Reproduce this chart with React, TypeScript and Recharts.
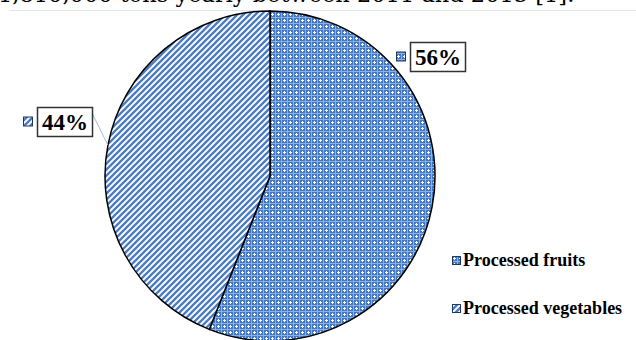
import { PieChart, Pie, Cell, Legend } from "recharts";

// categorias e fatias (%)
const categories = ["Processed fruits", "Processed vegetables"];
const shares = [56, 44];
const patternIds = ["pat-fruits", "pat-veg"];

// posição das caixas de rótulo em relação ao centro do gráfico (dx, dy do centro da caixa)
const LABEL_OFFSETS = [
  { dx: 168, dy: -119 },
  { dx: -205, dy: -54 },
];

const FONT = "'Liberation Serif', 'Times New Roman', serif";

function PatternDefs() {
  return (
    <defs>
      <pattern id="pat-fruits" width="6" height="6" patternUnits="userSpaceOnUse">
        <rect width="6" height="6" fill="#4178c6" />
        <rect x="2" y="1" width="1" height="3" fill="#ffffff" />
        <rect x="1" y="2" width="3" height="1" fill="#ffffff" />
        <rect x="5" y="5" width="1" height="1" fill="#ffffff" />
        <rect x="5" y="0" width="1" height="6" fill="#8fb0e2" />
        <rect x="0" y="5" width="6" height="1" fill="#8fb0e2" />
      </pattern>
      <pattern id="pat-veg" width="6" height="6" patternUnits="userSpaceOnUse">
        <rect width="6" height="6" fill="#ffffff" />
        <path d="M-1.5,1.5 L1.5,-1.5 M0,6 L6,0 M4.5,7.5 L7.5,4.5" stroke="#4a7cc4" strokeWidth="2.3" />
      </pattern>
    </defs>
  );
}

function Swatch({ id, size = 9 }: { id: string; size?: number }) {
  return (
    <svg width={size} height={size} style={{ display: "block" }}>
      <rect x={0.5} y={0.5} width={size - 1} height={size - 1} fill={`url(#${id})`} stroke="#1f3864" strokeWidth={1} />
    </svg>
  );
}

const renderLabel = (props: any) => {
  const { cx, cy, midAngle, outerRadius, index, value } = props;
  const off = LABEL_OFFSETS[index];
  const bx = cx + off.dx;
  const by = cy + off.dy;
  const w = 55;
  const h = 29;
  const RAD = Math.PI / 180;
  const ex = cx + outerRadius * Math.cos(-midAngle * RAD);
  const ey = cy + outerRadius * Math.sin(-midAngle * RAD);
  return (
    <g>
      {index === 1 && (
        <line x1={bx + w / 2} y1={by - 8} x2={ex} y2={ey} stroke="#9dbbe3" strokeWidth={1} />
      )}
      <rect x={bx - w / 2} y={by - h / 2} width={w} height={h} fill="#fff" stroke="#333" strokeWidth={1.5} />
      <rect x={bx - w / 2 - 14} y={by - 5} width={9} height={9} fill={`url(#${patternIds[index]})`} stroke="#1f3864" strokeWidth={1} />
      <text x={bx} y={by + 8} textAnchor="middle" fontFamily={FONT} fontWeight="bold" fontSize={23} fill="#000">
        {`${value}%`}
      </text>
    </g>
  );
};

const renderLegend = () => (
  <div style={{ fontFamily: FONT, fontWeight: "bold", fontSize: 18, color: "#000", lineHeight: "20px" }}>
    {categories.map((c, i) => (
      <div key={c} style={{ display: "flex", alignItems: "center", height: 20, marginBottom: i === 0 ? 28 : 0 }}>
        <Swatch id={patternIds[i]} />
        <span style={{ marginLeft: 2 }}>{c}</span>
      </div>
    ))}
  </div>
);

export default function App() {
  const data = categories.map((name, i) => ({ name, value: shares[i] }));
  return (
    <div style={{ position: "fixed", left: 0, top: 0, width: 636, height: 340, overflow: "hidden", background: "#fff" }}>
      <div
        style={{
          position: "absolute",
          left: -2,
          top: -19,
          whiteSpace: "nowrap",
          fontFamily: "'DejaVu Serif', serif",
          fontSize: 22.5,
          lineHeight: "26px",
          color: "#000",
        }}
      >
        1,810,000 tons yearly between 2011 and 2015 [1].
      </div>
      <div style={{ position: "absolute", left: 10, right: 0, top: 10, height: 1, background: "#dbe5f3" }} />
      <PieChart width={636} height={340} margin={{ top: 0, right: 0, bottom: 0, left: 0 }} style={{ position: "absolute", left: 0, top: 0 }}>
        <PatternDefs />
        <Pie
          data={data}
          dataKey="value"
          nameKey="name"
          cx={270}
          cy={176}
          outerRadius={165}
          startAngle={90}
          endAngle={-270}
          stroke="#000"
          strokeWidth={1.5}
          label={renderLabel}
          labelLine={false}
          isAnimationActive={false}
        >
          {data.map((entry, i) => (
            <Cell key={entry.name} fill={`url(#${patternIds[i]})`} />
          ))}
        </Pie>
        <Legend
          content={renderLegend}
          layout="vertical"
          align="right"
          verticalAlign="bottom"
          wrapperStyle={{ position: "absolute", left: 452, top: 250, width: 184 }}
        />
      </PieChart>
    </div>
  );
}
